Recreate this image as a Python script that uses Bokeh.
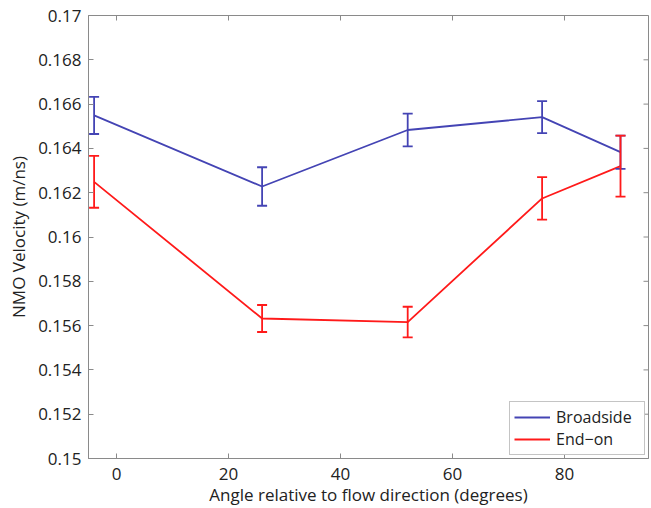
import math
from bokeh.plotting import figure
from bokeh.models import (ColumnDataSource, Whisker, TeeHead,
                          FixedTicker, CustomJSTickFormatter, Range1d)
from bokeh.embed import file_html
from bokeh.resources import INLINE

# ---- data ----
angles = [-4, 26, 52, 76, 90]
broadside = [0.16549, 0.16228, 0.16483, 0.16541, 0.16383]
broadside_err = [0.00084, 0.00087, 0.00074, 0.00072, 0.00075]
endon = [0.16249, 0.15632, 0.15616, 0.16174, 0.16320]
endon_err = [0.00117, 0.00061, 0.00069, 0.00096, 0.00138]

x_ticks = [0, 20, 40, 60, 80]
y_ticks = [0.15, 0.152, 0.154, 0.156, 0.158, 0.16, 0.162, 0.164, 0.166, 0.168, 0.17]
x_lim = (-5, 95)
y_lim = (0.15, 0.17)

x_label = "Angle relative to flow direction (degrees)"
y_label = "NMO Velocity (m/ns)"

BLUE = "#4444b4"
RED = "#ff1a1a"
GRAY = "#8a8a8a"
TEXT = "#222222"
FONT = "Open Sans"
FS = "17px"

p = figure(width=651, height=508, output_backend="svg", toolbar_location=None,
           x_range=Range1d(*x_lim), y_range=Range1d(*y_lim),
           min_border_left=88, min_border_right=3, min_border_top=15,
           min_border_bottom=50)
p.grid.visible = False
p.outline_line_color = GRAY
p.background_fill_color = "white"

for ax in (p.xaxis[0], p.yaxis[0]):
    ax.major_tick_in = 5
    ax.major_tick_out = 0
    ax.minor_tick_line_color = None
    ax.axis_line_color = GRAY
    ax.major_tick_line_color = GRAY
    ax.major_label_text_font = FONT
    ax.major_label_text_font_size = FS
    ax.major_label_text_color = TEXT
    ax.axis_label_text_font = FONT
    ax.axis_label_text_font_size = FS
    ax.axis_label_text_font_style = "normal"
    ax.axis_label_text_color = TEXT

p.xaxis.ticker = FixedTicker(ticks=x_ticks)
p.yaxis.ticker = FixedTicker(ticks=y_ticks)
p.yaxis.formatter = CustomJSTickFormatter(code="return parseFloat(tick.toFixed(3)).toString();")
p.xaxis.axis_label = x_label
p.yaxis.axis_label = y_label
p.xaxis.major_label_standoff = 9
p.yaxis.major_label_standoff = 7
p.xaxis.axis_label_standoff = 0
p.yaxis.axis_label_standoff = 5

# mirrored inward ticks on the top and right frame edges (clipped to the frame)
p.scatter(x=x_ticks, y=[y_lim[1]] * len(x_ticks), marker="dash", size=10,
          angle=math.pi / 2, line_color=GRAY, line_width=1)
p.scatter(x=[x_lim[1]] * len(y_ticks), y=y_ticks, marker="dash", size=10,
          line_color=GRAY, line_width=1)

src_b = ColumnDataSource(dict(x=angles, y=broadside,
                              lo=[v - e for v, e in zip(broadside, broadside_err)],
                              hi=[v + e for v, e in zip(broadside, broadside_err)]))
src_r = ColumnDataSource(dict(x=angles, y=endon,
                              lo=[v - e for v, e in zip(endon, endon_err)],
                              hi=[v + e for v, e in zip(endon, endon_err)]))

p.line("x", "y", source=src_b, line_color=BLUE, line_width=1.8, legend_label="Broadside")
wb = Whisker(base="x", lower="lo", upper="hi", source=src_b, line_color=BLUE, line_width=1.8,
             upper_head=TeeHead(size=10, line_color=BLUE, line_width=1.8),
             lower_head=TeeHead(size=10, line_color=BLUE, line_width=1.8), level="glyph")
p.add_layout(wb)
p.line("x", "y", source=src_r, line_color=RED, line_width=1.8, legend_label="End\u2212on")
wr = Whisker(base="x", lower="lo", upper="hi", source=src_r, line_color=RED, line_width=1.8,
             upper_head=TeeHead(size=10, line_color=RED, line_width=1.8),
             lower_head=TeeHead(size=10, line_color=RED, line_width=1.8), level="glyph")
p.add_layout(wr)

lg = p.legend[0]
lg.location = "bottom_right"
lg.margin = 3
lg.padding = 4
lg.spacing = 0
lg.border_line_color = GRAY
lg.border_line_width = 1
lg.background_fill_alpha = 1
lg.label_text_font = FONT
lg.label_text_font_size = "16px"
lg.label_text_color = TEXT
lg.glyph_width = 36
lg.glyph_height = 18
lg.label_standoff = 6
lg.label_height = 18
lg.label_width = 84

open("out.html", "w").write(file_html(p, INLINE))
